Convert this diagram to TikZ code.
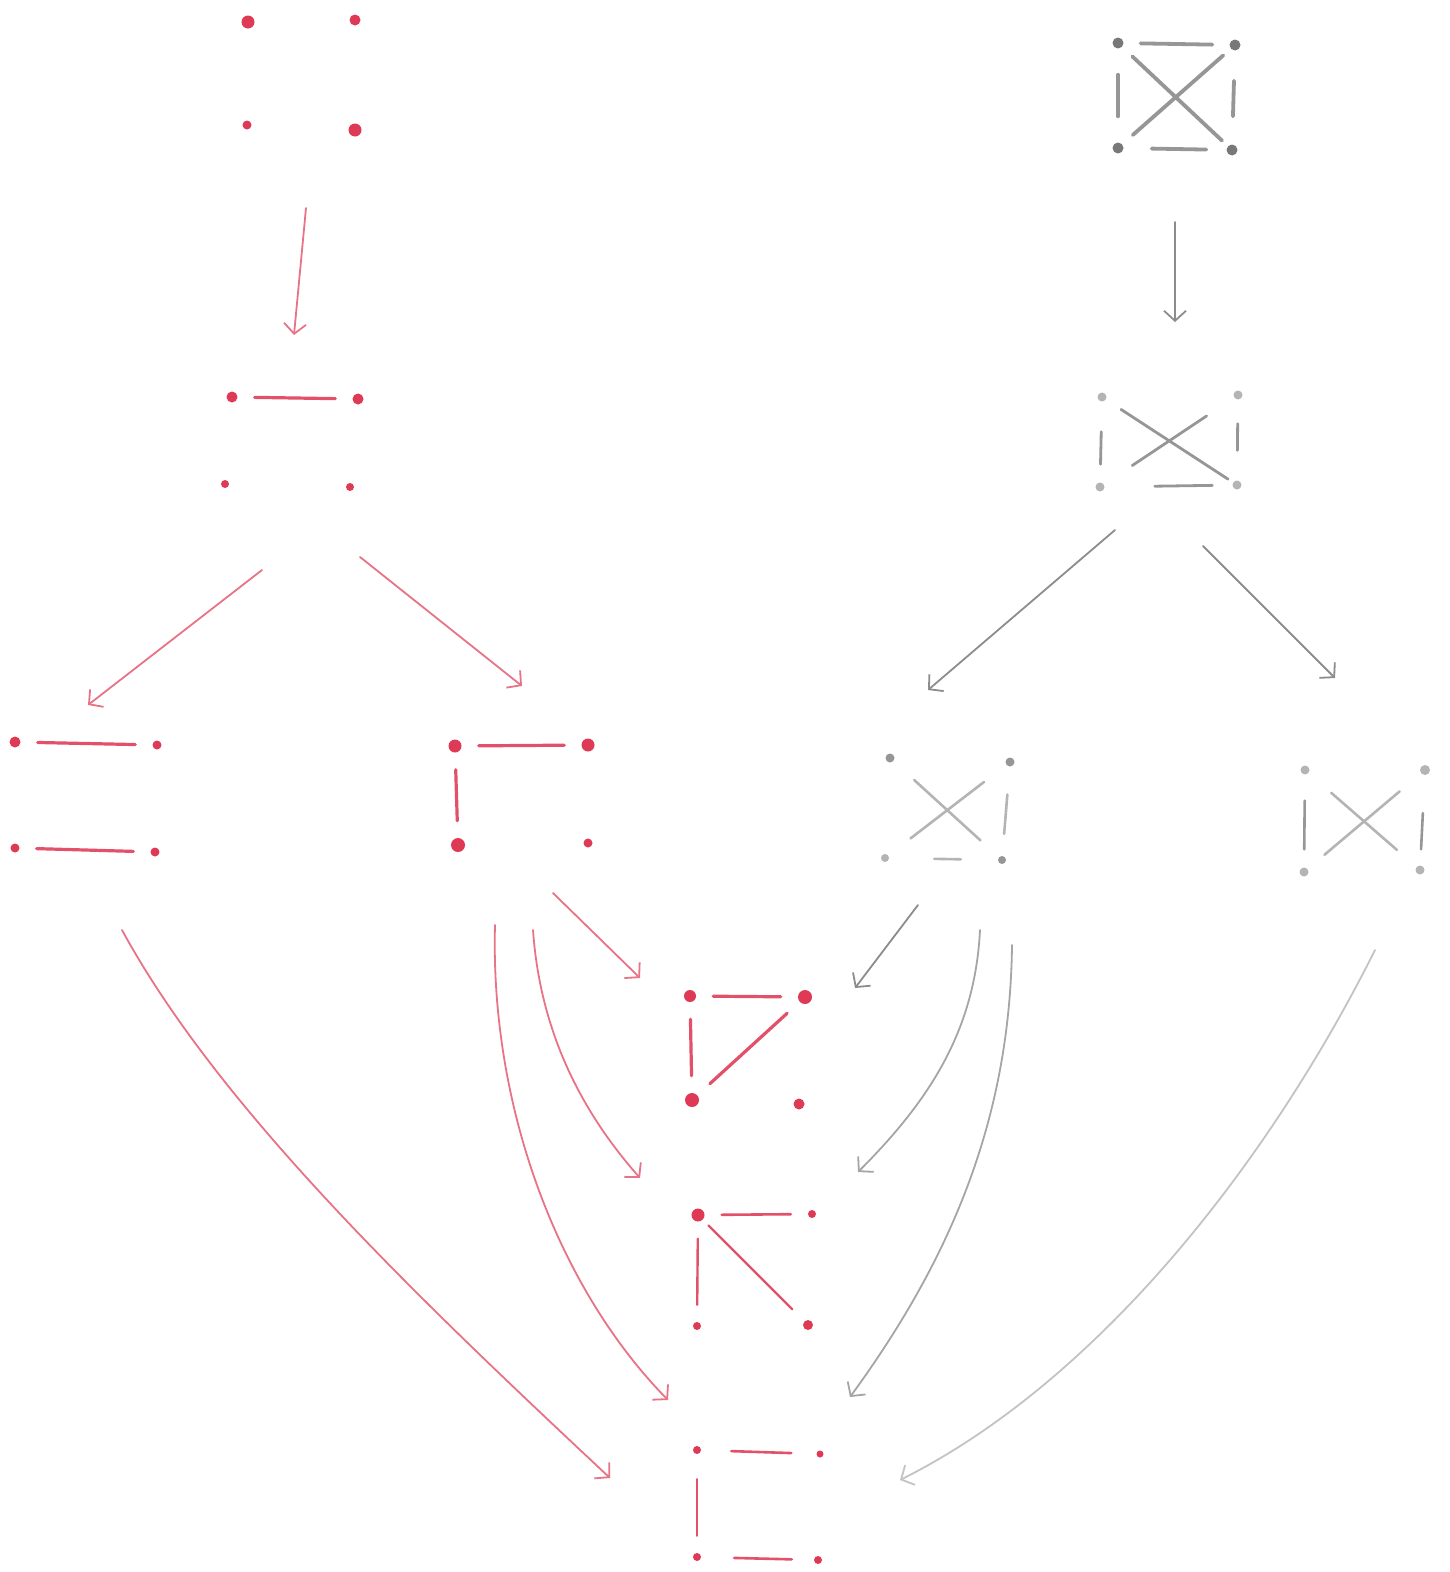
\documentclass[tikz,border=0pt]{standalone}
\usetikzlibrary{arrows.meta}
\definecolor{rdot}{RGB}{222,58,85}
\definecolor{rline}{RGB}{226,80,105}
\definecolor{rarrow}{RGB}{232,115,135}
\definecolor{gdark}{RGB}{120,120,120}
\definecolor{gmid}{RGB}{150,150,150}
\definecolor{glight}{RGB}{180,180,180}
\definecolor{garrow}{RGB}{140,140,140}
\definecolor{garrowm}{RGB}{165,165,165}
\definecolor{garrowl}{RGB}{195,195,195}
\tikzset{
  vtx/.style={circle,fill=#1,inner sep=0pt,minimum size=11pt},
  ed/.style={draw=#1,line width=3.2pt,line cap=round,shorten <=17pt,shorten >=17pt},
  arr/.style={draw=#1,line width=1.8pt,line cap=round,-{Straight Barb[length=10pt,width=22pt,line width=1.8pt]}},
}
\begin{document}
\begin{tikzpicture}[x=1pt,y=-1pt]
\useasboundingbox (0,0) rectangle (1450,1572);
% ---------- red graphs ----------
% R1 empty
\node[vtx=rdot,minimum size=13pt] (R1a) at (248,22) {};
\node[vtx=rdot] (R1b) at (355,20) {};
\node[vtx=rdot,minimum size=9pt] (R1c) at (247,125) {};
\node[vtx=rdot,minimum size=13pt] (R1d) at (355,130) {};
% R2 one edge
\node[vtx=rdot] (R2a) at (232,397) {};
\node[vtx=rdot] (R2b) at (358,399) {};
\node[vtx=rdot,minimum size=8pt] (R2c) at (225,484) {};
\node[vtx=rdot,minimum size=8pt] (R2d) at (350,487) {};
\draw[ed=rline] (R2a) -- (R2b);
% R3 two parallel
\node[vtx=rdot] (R3a) at (15,742) {};
\node[vtx=rdot,minimum size=9pt] (R3b) at (157,745) {};
\node[vtx=rdot,minimum size=9pt] (R3c) at (15,848) {};
\node[vtx=rdot,minimum size=9pt] (R3d) at (155,852) {};
\draw[ed=rline] (R3a) -- (R3b);
\draw[ed=rline] (R3c) -- (R3d);
% R4 path of two
\node[vtx=rdot,minimum size=13pt] (R4a) at (455,746) {};
\node[vtx=rdot,minimum size=13pt] (R4b) at (588,745) {};
\node[vtx=rdot,minimum size=14pt] (R4c) at (458,845) {};
\node[vtx=rdot,minimum size=9pt] (R4d) at (588,843) {};
\draw[ed=rline] (R4a) -- (R4b);
\draw[ed=rline] (R4a) -- (R4c);
% R5
\node[vtx=rdot,minimum size=12pt] (R5a) at (690,996) {};
\node[vtx=rdot,minimum size=14pt] (R5b) at (805,997) {};
\node[vtx=rdot,minimum size=14pt] (R5c) at (692,1100) {};
\node[vtx=rdot,minimum size=11pt] (R5d) at (799,1104) {};
\draw[ed=rline] (R5a) -- (R5b);
\draw[ed=rline] (R5a) -- (R5c);
\draw[ed=rline] (R5b) -- (R5c);
% R6
\node[vtx=rdot,minimum size=13pt] (R6a) at (698,1215) {};
\node[vtx=rdot,minimum size=8pt] (R6b) at (812,1214) {};
\node[vtx=rdot,minimum size=8pt] (R6c) at (697,1326) {};
\node[vtx=rdot,minimum size=10pt] (R6d) at (808,1325) {};
\draw[ed=rline,line width=2.6pt] (R6a) -- (R6b);
\draw[ed=rline,line width=2.4pt] (R6a) -- (R6c);
\draw[ed=rline,line width=2.4pt,shorten <=8pt] (R6a) -- (R6d);
% R7
\node[vtx=rdot,minimum size=8pt] (R7a) at (697,1450) {};
\node[vtx=rdot,minimum size=7pt] (R7b) at (820,1454) {};
\node[vtx=rdot,minimum size=8pt] (R7c) at (697,1557) {};
\node[vtx=rdot,minimum size=8pt] (R7d) at (818,1560) {};
\draw[ed=rline,line width=2.6pt,shorten <=30pt,shorten >=25pt] (R7a) -- (R7b);
\draw[ed=rline,line width=2.4pt,shorten <=25pt] (R7a) -- (R7c);
\draw[ed=rline,line width=2.6pt,shorten <=33pt,shorten >=22pt] (R7c) -- (R7d);
% ---------- gray graphs ----------
% GA  K4
\node[vtx=gdark] (GAa) at (1118,43) {};
\node[vtx=gdark] (GAb) at (1235,45) {};
\node[vtx=gdark] (GAc) at (1118,148) {};
\node[vtx=gdark] (GAd) at (1232,150) {};
\draw[ed=gmid,line width=3.8pt] (GAa) -- (GAb);
\draw[ed=gmid,line width=3.8pt,shorten <=26pt,shorten >=26pt] (GAa) -- (GAc);
\draw[ed=gmid,line width=3.8pt,shorten <=30pt,shorten >=28pt] (GAb) -- (GAd);
\draw[ed=gmid,line width=3.8pt,shorten <=28pt,shorten >=20pt] (GAc) -- (GAd);
\draw[ed=gmid,line width=3.8pt,shorten <=14pt,shorten >=8pt] (GAa) -- (GAd);
\draw[ed=gmid,line width=3.8pt,shorten <=10pt,shorten >=14pt] (GAb) -- (GAc);
% GB  K4 minus top
\node[vtx=glight,minimum size=9pt] (GBa) at (1102,397) {};
\node[vtx=glight,minimum size=9pt] (GBb) at (1238,395) {};
\node[vtx=glight,minimum size=9pt] (GBc) at (1100,487) {};
\node[vtx=glight,minimum size=9pt] (GBd) at (1237,485) {};
\draw[ed=gmid,line width=2.8pt,shorten <=30pt,shorten >=18pt] (GBa) -- (GBc);
\draw[ed=gmid,line width=2.8pt,shorten <=24pt,shorten >=30pt] (GBb) -- (GBd);
\draw[ed=gmid,line width=2.8pt,shorten <=50pt,shorten >=20pt] (GBc) -- (GBd);
\draw[ed=gmid,line width=2.8pt,shorten <=18pt,shorten >=6pt] (GBa) -- (GBd);
\draw[ed=gmid,line width=2.8pt,shorten <=33pt,shorten >=34pt] (GBb) -- (GBc);
% GC  minus top, left
\node[vtx=gmid,minimum size=9pt] (GCa) at (890,758) {};
\node[vtx=gmid,minimum size=9pt] (GCb) at (1010,762) {};
\node[vtx=glight,minimum size=8pt] (GCc) at (885,858) {};
\node[vtx=gmid,minimum size=8pt] (GCd) at (1002,860) {};
\draw[ed=glight,line width=2.6pt,shorten <=28pt,shorten >=22pt] (GCb) -- (GCd);
\draw[ed=glight,line width=2.6pt,shorten <=45pt,shorten >=37pt] (GCc) -- (GCd);
\draw[ed=glight,line width=2.6pt,shorten <=28pt,shorten >=25pt] (GCa) -- (GCd);
\draw[ed=glight,line width=2.6pt,shorten <=28pt,shorten >=28pt] (GCb) -- (GCc);
% GD  minus top, bottom
\node[vtx=glight,minimum size=9pt] (GDa) at (1305,770) {};
\node[vtx=glight,minimum size=10pt] (GDb) at (1425,770) {};
\node[vtx=glight,minimum size=9pt] (GDc) at (1304,872) {};
\node[vtx=glight,minimum size=9pt] (GDd) at (1420,870) {};
\draw[ed=gmid,line width=2.6pt,shorten <=26pt,shorten >=18pt] (GDa) -- (GDc);
\draw[ed=gmid,line width=2.6pt,shorten <=38pt,shorten >=16pt] (GDb) -- (GDd);
\draw[ed=glight,line width=2.6pt,shorten <=30pt,shorten >=26pt] (GDa) -- (GDd);
\draw[ed=glight,line width=2.6pt,shorten <=28pt,shorten >=22pt] (GDb) -- (GDc);
% ---------- arrow end points ----------
\coordinate (r1s) at (306,208); \coordinate (r1e) at (294,335);
\coordinate (r2s) at (262,570); \coordinate (r2e) at (88,705);
\coordinate (r3s) at (360,557); \coordinate (r3e) at (522,686);
\coordinate (r4s) at (553,893); \coordinate (r4e) at (640,978);
\coordinate (r5s) at (533,930); \coordinate (r5e) at (640,1178);
\coordinate (r6s) at (495,925); \coordinate (r6e) at (668,1400);
\coordinate (r7s) at (122,930); \coordinate (r7e) at (610,1478);
\coordinate (g1s) at (1175,222); \coordinate (g1e) at (1175,322);
\coordinate (g2s) at (1115,530); \coordinate (g2e) at (928,690);
\coordinate (g3s) at (1203,546); \coordinate (g3e) at (1335,678);
\coordinate (g4s) at (918,905); \coordinate (g4e) at (855,988);
\coordinate (g5s) at (980,930); \coordinate (g5e) at (858,1172);
\coordinate (g6s) at (1012,945); \coordinate (g6e) at (850,1397);
\coordinate (g7s) at (1375,950); \coordinate (g7e) at (900,1480);
% ---------- arrows ----------
\draw[arr=rarrow] (r1s) -- (r1e);
\draw[arr=rarrow] (r2s) -- (r2e);
\draw[arr=rarrow] (r3s) -- (r3e);
\draw[arr=rarrow] (r4s) -- (r4e);
\draw[arr=rarrow] (r5s) .. controls (540,1030) and (580,1110) .. (r5e);
\draw[arr=rarrow] (r6s) .. controls (490,1110) and (560,1290) .. (r6e);
\draw[arr=rarrow] (r7s) .. controls (220,1110) and (420,1300) .. (r7e);
\draw[arr=garrow] (g1s) -- (g1e);
\draw[arr=garrow] (g2s) -- (g2e);
\draw[arr=garrow] (g3s) -- (g3e);
\draw[arr=garrow] (g4s) -- (g4e);
\draw[arr=garrowm] (g5s) .. controls (975,1030) and (930,1100) .. (g5e);
\draw[arr=garrowm] (g6s) .. controls (1010,1120) and (950,1260) .. (g6e);
\draw[arr=garrowl] (g7s) .. controls (1270,1160) and (1100,1380) .. (g7e);
\end{tikzpicture}
\end{document}
